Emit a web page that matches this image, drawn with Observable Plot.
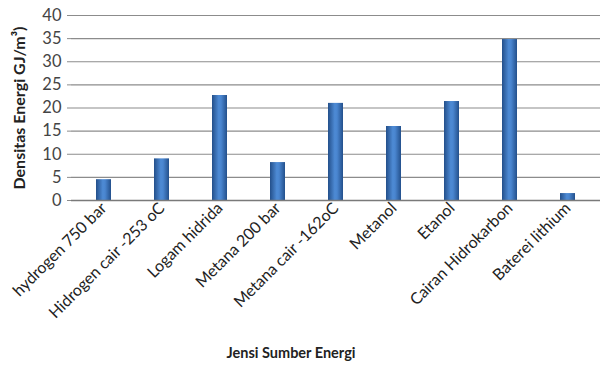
<!DOCTYPE html>
<html>
<head>
<meta charset="utf-8">
<script src="https://cdn.jsdelivr.net/npm/d3@7"></script>
<script src="https://cdn.jsdelivr.net/npm/@observablehq/plot@0.6"></script>
<style>
  body { margin: 0; background: #fff; }
  #chart svg { font-family: Lato, "Open Sans", sans-serif; }
</style>
</head>
<body>
<div id="chart"></div>
<script>
const categories = ["hydrogen 750 bar", "Hidrogen cair -253 oC", "Logam hidrida", "Metana 200 bar", "Metana cair -162oC", "Metanol", "Etanol", "Cairan Hidrokarbon", "Baterei lithium"];
const values = [4.5, 9.0, 22.7, 8.2, 21.0, 16.0, 21.4, 34.8, 1.5];
const yTicks = [0, 5, 10, 15, 20, 25, 30, 35, 40];
const xTitle = "Jensi Sumber Energi";
const yTitle = "Densitas Energi GJ/m³)";

const data = categories.map((c, i) => ({category: c, value: values[i]}));

const chart = Plot.plot({
  width: 600,
  height: 370,
  marginLeft: 71,
  marginRight: 0,
  marginTop: 15,
  marginBottom: 170,
  style: {fontSize: "14px", color: "#333", background: "#fff"},
  x: {domain: categories, paddingInner: 0.745, paddingOuter: 0.37, label: null},
  y: {domain: [0, 40], ticks: yTicks, label: null},
  marks: [
    Plot.gridY(yTicks, {stroke: "#8c8c8c", strokeOpacity: 1, strokeWidth: 1.2}),
    Plot.axisY(yTicks, {tickSize: 4, stroke: "#8c8c8c", tickPadding: 6, fontSize: 16.5, fill: "#444", label: null}),
    Plot.axisX({tickSize: 0, tickRotate: -45, tickPadding: 5, fontSize: 16, fill: "#222", label: null}),
    Plot.barY(data, {x: "category", y: "value", fill: "url(#barGrad)"}),
    Plot.ruleY([0], {stroke: "#7a7a7a", strokeWidth: 1.3}),
    Plot.text([xTitle], {frameAnchor: "bottom", dx: -45, dy: 157, fontWeight: "bold", fontSize: 14.5, fill: "#222"}),
    Plot.text([yTitle], {frameAnchor: "left", textAnchor: "middle", dx: -52, rotate: -90, fontWeight: "bold", fontSize: 16, fill: "#222"})
  ]
});

const ns = "http://www.w3.org/2000/svg";
const defs = document.createElementNS(ns, "defs");
defs.innerHTML = `<linearGradient id="barGrad" x1="0" x2="1" y1="0" y2="0">
  <stop offset="0" stop-color="#234f8a"/>
  <stop offset="0.45" stop-color="#4d8ad4"/>
  <stop offset="0.6" stop-color="#4a86d0"/>
  <stop offset="1" stop-color="#23508c"/>
</linearGradient>`;
chart.insertBefore(defs, chart.firstChild);
document.getElementById("chart").appendChild(chart);
</script>
</body>
</html>
